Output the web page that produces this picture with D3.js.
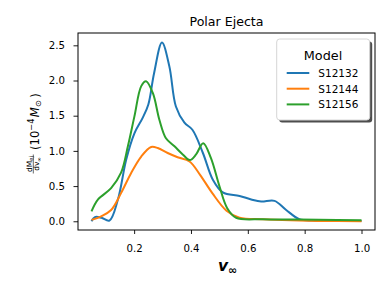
<!DOCTYPE html>
<html>
<head>
<meta charset="utf-8">
<script src="https://cdn.jsdelivr.net/npm/d3@7"></script>
<style>
  body { margin: 0; background: #fff; }
  svg { display: block; font-family: "DejaVu Sans", sans-serif; }
</style>
</head>
<body>
<div class="root"></div>
<script>
// values
const models = ['S12132', 'S12144', 'S12156']
const colors = ['#1f77b4', '#ff7f0e', '#2ca02c']

const vS12132 = [0.05, 0.062, 0.085, 0.113, 0.143, 0.172, 0.201, 0.23, 0.25, 0.27, 0.298, 0.324, 0.347, 0.377, 0.405, 0.442, 0.477, 0.512, 0.571, 0.612, 0.647, 0.694, 0.735, 0.781, 0.828, 0.9, 1.0]
const mS12132 = [0.0, 0.06, 0.05, 0.01, 0.31, 0.875, 1.25, 1.47, 1.66, 2.1, 2.54, 2.2, 1.63, 1.40, 1.30, 0.97, 0.59, 0.41, 0.36, 0.31, 0.28, 0.29, 0.16, 0.03, 0.01, 0.005, 0.005]

const vS12144 = [0.05, 0.084, 0.119, 0.154, 0.19, 0.225, 0.26, 0.283, 0.318, 0.353, 0.395, 0.432, 0.475, 0.525, 0.571, 0.653, 0.75, 0.85, 1.0]
const mS12144 = [0.02, 0.07, 0.16, 0.40, 0.69, 0.92, 1.055, 1.04, 0.97, 0.91, 0.85, 0.66, 0.40, 0.15, 0.05, 0.03, 0.015, 0.005, 0.0]

const vS12156 = [0.05, 0.073, 0.119, 0.154, 0.178, 0.201, 0.225, 0.242, 0.266, 0.289, 0.312, 0.342, 0.371, 0.396, 0.418, 0.443, 0.47, 0.5, 0.527, 0.559, 0.653, 0.75, 0.85, 1.0]
const mS12156 = [0.14, 0.31, 0.47, 0.69, 1.065, 1.49, 1.92, 1.99, 1.82, 1.44, 1.18, 1.065, 0.95, 0.87, 0.95, 1.11, 0.90, 0.50, 0.19, 0.05, 0.03, 0.025, 0.02, 0.015]

const xTicks = [0.2, 0.4, 0.6, 0.8, 1.0]
const yTicks = [0.0, 0.5, 1.0, 1.5, 2.0, 2.5]

const series = [
  { name: models[0], color: colors[0], points: vS12132.map((v, i) => [v, mS12132[i]]) },
  { name: models[1], color: colors[1], points: vS12144.map((v, i) => [v, mS12144[i]]) },
  { name: models[2], color: colors[2], points: vS12156.map((v, i) => [v, mS12156[i]]) }
]

const width = 390
    , height = 293
    , box = { left: 78, right: 375, top: 33, bottom: 230 }

const svg = d3.select('.root')
              .append('svg')
              .attr('width', width)
              .attr('height', height)

const scaleX = d3.scaleLinear()
                 .domain([0.0025, 1.0475])
                 .range([box.left, box.right])
const scaleY = d3.scaleLinear()
                 .domain([-0.124, 2.675])
                 .range([box.bottom, box.top])

const line = d3.line()
               .x(d => scaleX(d[0]))
               .y(d => scaleY(d[1]))
               .curve(d3.curveCatmullRom.alpha(0.5))

svg.append('g')
   .selectAll('path')
   .data(series)
   .enter()
   .append('path')
   .attr('d', d => line(d.points))
   .attr('fill', 'none')
   .attr('stroke', d => d.color)
   .attr('stroke-width', 2)
   .attr('stroke-linejoin', 'round')

// axes
const xAxis = svg.append('g')
                 .attr('transform', `translate(0, ${box.bottom})`)
                 .call(d3.axisBottom(scaleX).tickValues(xTicks).tickFormat(d3.format('.1f')).tickSize(4).tickPadding(10.5).tickSizeOuter(0))
const yAxis = svg.append('g')
                 .attr('transform', `translate(${box.left}, 0)`)
                 .call(d3.axisLeft(scaleY).tickValues(yTicks).tickFormat(d3.format('.1f')).tickSize(4.5).tickPadding(8.5).tickSizeOuter(0))

;[xAxis, yAxis].forEach(g => {
  g.select('.domain').remove()
  g.selectAll('text').attr('font-size', 10.2).attr('fill', '#000').attr('font-family', 'DejaVu Sans')
  g.selectAll('line').attr('stroke', '#000').attr('stroke-width', 0.9)
})

svg.append('rect')
   .attr('x', box.left)
   .attr('y', box.top)
   .attr('width', box.right - box.left)
   .attr('height', box.bottom - box.top)
   .attr('fill', 'none')
   .attr('stroke', '#000')
   .attr('stroke-width', 1)

// title
svg.append('text')
   .attr('x', (box.left + box.right) / 2)
   .attr('y', 26)
   .attr('text-anchor', 'middle')
   .attr('font-size', 12.6)
   .text('Polar Ejecta')

// x label: v_inf
const xl = svg.append('text')
              .attr('x', 218)
              .attr('y', 271)
              .attr('font-size', 15.5)
              .attr('font-style', 'italic')
              .attr('font-weight', 'bold')
xl.append('tspan').text('v')
xl.append('tspan').attr('font-size', 11).attr('font-style', 'normal').attr('dy', 2.5).text('∞')

// y label: dM_ej/dv_inf (10^-4 M_sun)
const yl = svg.append('g')
              .attr('transform', 'translate(38.5, 130) rotate(-90)')

const num = yl.append('text').attr('x', -34).attr('y', -7).attr('text-anchor', 'middle').attr('font-size', 7.4)
num.append('tspan').text('dM')
num.append('tspan').attr('font-size', 5.4).attr('dy', 1.4).text('ej')
const den = yl.append('text').attr('x', -34).attr('y', 0.8).attr('text-anchor', 'middle').attr('font-size', 7.4)
den.append('tspan').text('dv')
den.append('tspan').attr('font-size', 5.4).attr('dy', 1.4).text('∞')
yl.append('line')
  .attr('x1', -43.5).attr('x2', -24.5)
  .attr('y1', -5.2).attr('y2', -5.2)
  .attr('stroke', '#000').attr('stroke-width', 0.6)

const unit = yl.append('text').attr('x', -20).attr('y', 0).attr('font-size', 11.6)
unit.append('tspan').text('(10')
unit.append('tspan').attr('font-size', 8.2).attr('dy', -4.8).text('−4')
unit.append('tspan').attr('dy', 4.8).attr('dx', 1.5).attr('font-style', 'italic').text('M')
unit.append('tspan').attr('font-size', 8.2).attr('dy', 2).text('⊙')
unit.append('tspan').attr('dy', -2).attr('dx', 2.5).text(')')

// legend
const legend = { x: 276.7, y: 39, w: 93, h: 81 }
svg.append('rect')
   .attr('x', legend.x + 2.5).attr('y', legend.y + 2.5)
   .attr('width', legend.w).attr('height', legend.h)
   .attr('rx', 3)
   .attr('fill', '#4d4d4d')
svg.append('rect')
   .attr('x', legend.x).attr('y', legend.y)
   .attr('width', legend.w).attr('height', legend.h)
   .attr('rx', 3)
   .attr('fill', '#fff')
   .attr('stroke', '#d6d6d6')
   .attr('stroke-width', 1)

svg.append('text')
   .attr('x', 323)
   .attr('y', 60)
   .attr('text-anchor', 'middle')
   .attr('font-size', 12.8)
   .text('Model')

const entries = svg.append('g')
                   .selectAll('g')
                   .data(series)
                   .enter()
                   .append('g')
                   .attr('transform', (d, i) => `translate(0, ${73 + i * 15.7})`)
entries.append('line')
       .attr('x1', 286.7).attr('x2', 309.3)
       .attr('stroke', d => d.color)
       .attr('stroke-width', 2)
entries.append('text')
       .attr('x', 318.3)
       .attr('y', 3.8)
       .attr('font-size', 10.5)
       .text(d => d.name)
</script>
</body>
</html>
